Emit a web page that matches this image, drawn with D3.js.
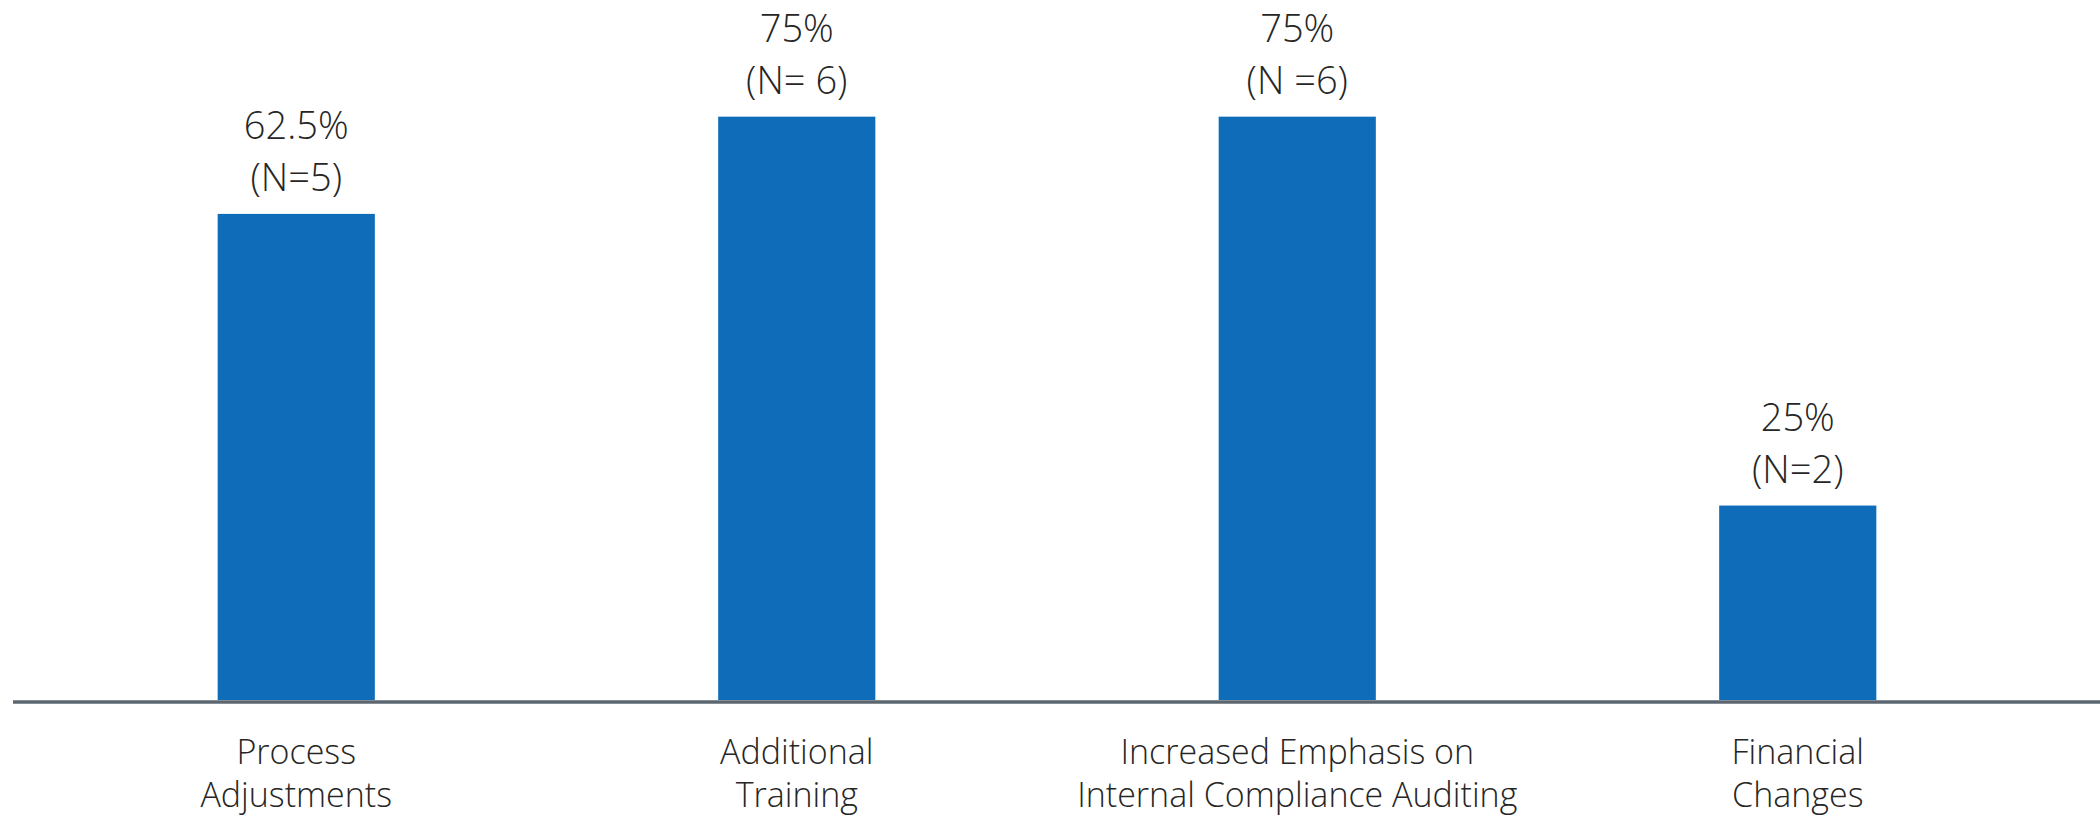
<!DOCTYPE html>
<html>
<head>
<meta charset="utf-8">
<script src="https://cdn.jsdelivr.net/npm/d3@7"></script>
<style>
html,body{margin:0;padding:0;background:#fff;}
svg{display:block;}
text{font-family:"Open Sans","Noto Sans",sans-serif;font-weight:300;fill:#262626;}
</style>
</head>
<body>
<svg id="chart" width="2100" height="816"></svg>
<script>
const categories = [
  ["Process", "Adjustments"],
  ["Additional", "Training"],
  ["Increased Emphasis on", "Internal Compliance Auditing"],
  ["Financial", "Changes"]
];
const values = [62.5, 75, 75, 25];
const valueLabels = ["62.5%", "75%", "75%", "25%"];
const countLabels = ["(N=5)", "(N= 6)", "(N =6)", "(N=2)"];

const W = 2100, H = 816;
const baseY = 700;
const svg = d3.select("#chart");

const x = d3.scaleBand()
  .domain(d3.range(values.length))
  .range([46, 2048])
  .paddingInner(0.686)
  .paddingOuter(0.343);

const y = d3.scaleLinear().domain([0, 90]).range([baseY, 0]);

svg.selectAll("rect.bar")
  .data(values)
  .enter().append("rect")
  .attr("class", "bar")
  .attr("x", (d, i) => x(i))
  .attr("width", x.bandwidth())
  .attr("y", d => y(d))
  .attr("height", d => y(0) - y(d))
  .attr("fill", "#0E6CB8");

// axis baseline
svg.append("line")
  .attr("x1", 13).attr("x2", W)
  .attr("y1", baseY + 2).attr("y2", baseY + 2)
  .attr("stroke", "#5B6670").attr("stroke-width", 3.5);

// value labels
const vl = svg.selectAll("g.vlab").data(values).enter().append("g")
  .attr("transform", (d, i) => `translate(${x(i) + x.bandwidth() / 2},${y(d)})`);
vl.append("text")
  .attr("text-anchor", "middle")
  .attr("y", -88).attr("dy", "0.35em")
  .style("font-size", "38px")
  .text((d, i) => valueLabels[i]);
vl.append("text")
  .attr("text-anchor", "middle")
  .attr("y", -36).attr("dy", "0.35em")
  .style("font-size", "38px")
  .text((d, i) => countLabels[i]);

// category labels
const cl = svg.selectAll("g.clab").data(categories).enter().append("g")
  .attr("transform", (d, i) => `translate(${x(i) + x.bandwidth() / 2},0)`);
cl.each(function (lines) {
  const g = d3.select(this);
  lines.forEach((t, k) => {
    g.append("text")
      .attr("text-anchor", "middle")
      .attr("y", 752 + k * 43).attr("dy", "0.35em")
      .style("font-size", "34px")
      .text(t);
  });
});
</script>
</body>
</html>
